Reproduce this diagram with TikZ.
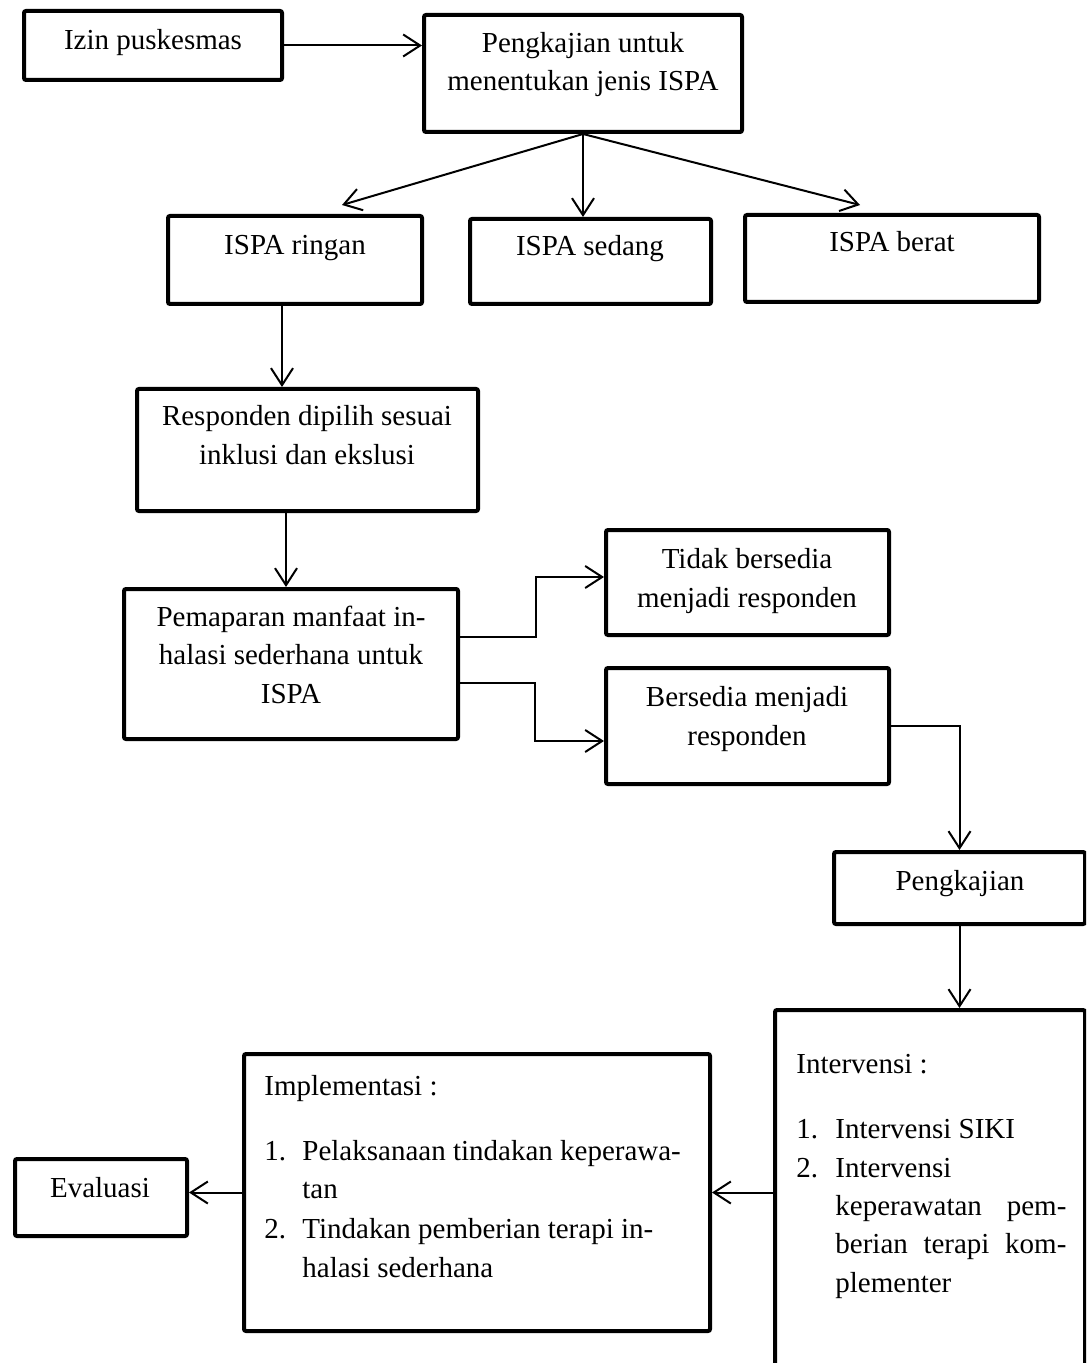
\documentclass[tikz,border=0pt]{standalone}
\usepackage{fontspec}
\setmainfont{Liberation Serif}
\usetikzlibrary{arrows.meta,calc}
\begin{document}
\begin{tikzpicture}[x=0.5pt,y=-0.5pt,
  box/.style={draw,line width=2pt,inner sep=0pt,rounded corners=1pt},
  arr/.style={line width=1pt,-{Straight Barb[length=8.5pt,width=11pt,line width=1pt]}},
  txt/.style={font=\fontsize{14.5pt}{19.25pt}\selectfont,inner sep=0pt,anchor=base,align=center},
  ltxt/.style={font=\fontsize{14.5pt}{19.25pt}\selectfont,inner sep=0pt,anchor=base west}]
\useasboundingbox (0,0) rectangle (1086,1363);
\clip (0,0) rectangle (1086,1363);
% boxes
\node[box,minimum width=129pt,minimum height=34.5pt] (izin) at (153,45.5) {};
\node[box,minimum width=159pt,minimum height=58.5pt] (peng1) at (583,73.5) {};
\node[box,minimum width=127pt,minimum height=44pt] (ringan) at (295,260) {};
\node[box,minimum width=120.5pt,minimum height=42.5pt] (sedang) at (590.5,261.5) {};
\node[box,minimum width=147pt,minimum height=43.5pt] (berat) at (892,258.5) {};
\node[box,minimum width=170.5pt,minimum height=61pt] (resp) at (307.5,450) {};
\node[box,minimum width=167pt,minimum height=75pt] (pemap) at (291,664) {};
\node[box,minimum width=141.5pt,minimum height=52.5pt] (tidak) at (747.5,582.5) {};
\node[box,minimum width=141.5pt,minimum height=58pt] (bersedia) at (747.5,726) {};
\node[box,minimum width=125.5pt,minimum height=36pt] (pengk) at (959.5,888) {};
\node[box,minimum width=155pt,minimum height=205pt] (interv) at (930,1215) {};
\node[box,minimum width=233pt,minimum height=138.5pt] (impl) at (477,1192.5) {};
\node[box,minimum width=86pt,minimum height=38.5pt] (eval) at (101,1197.5) {};
% texts (anchor = baseline of the last line)
\node[txt] (t-izin) at (153,50) {Izin puskesmas};
\node[txt] (t-peng1) at (583,91) {Pengkajian untuk\\menentukan jenis ISPA};
\node[txt] (t-ringan) at (295,255) {ISPA ringan};
\node[txt] (t-sedang) at (590,256) {ISPA sedang};
\node[txt] (t-berat) at (892,252) {ISPA berat};
\node[txt] (t-resp) at (307,464) {Responden dipilih sesuai\\inklusi dan ekslusi};
\node[txt] (t-pemap) at (291,703) {Pemaparan manfaat in-\\halasi sederhana untuk\\ISPA};
\node[txt] (t-tidak) at (747,607) {Tidak bersedia\\menjadi responden};
\node[txt] (t-bersedia) at (747,745) {Bersedia menjadi\\responden};
\node[txt] (t-pengk) at (960,890) {Pengkajian};
\node[txt] (t-eval) at (100,1197) {Evaluasi};
% Intervensi list
\node[ltxt] (iv0) at (796,1073) {Intervensi :};
\node[ltxt] (iv1n) at (796,1138) {1.};
\node[ltxt] (iv1) at (835,1138) {Intervensi SIKI};
\node[ltxt] (iv2n) at (796,1177) {2.};
\node[ltxt] (iv2a) at (835,1177) {Intervensi};
\node[ltxt] (iv2b) at (835,1215) {\makebox[115.5pt][s]{keperawatan pem-}};
\node[ltxt] (iv2c) at (835,1253) {\makebox[115.5pt][s]{berian terapi kom-}};
\node[ltxt] (iv2d) at (835,1292) {plementer};
% Implementasi list
\node[ltxt] (im0) at (264,1095) {Implementasi :};
\node[ltxt] (im1n) at (264,1160) {1.};
\node[ltxt] (im1a) at (302,1160) {Pelaksanaan tindakan keperawa-};
\node[ltxt] (im1b) at (302,1198) {tan};
\node[ltxt] (im2n) at (264,1238) {2.};
\node[ltxt] (im2a) at (302,1238) {Tindakan pemberian terapi in-};
\node[ltxt] (im2b) at (302,1277) {halasi sederhana};
% connectors
\coordinate (tipR) at (342,205);
\coordinate (tipB) at (860,205);
\coordinate (c1) at (282,0);
\coordinate (c2) at (286,0);
\coordinate (u1) at (536,637);
\coordinate (u2) at (536,577);
\coordinate (l1) at (535,683);
\coordinate (l2) at (535,741);
\draw[arr] (izin.east) -- (izin.east -| peng1.west);
\draw[arr] (peng1.south) -- (tipR);
\draw[arr] (peng1.south) -- (peng1.south |- sedang.north);
\draw[arr] (peng1.south) -- (tipB);
\draw[arr] (ringan.south -| c1) -- (resp.north -| c1);
\draw[arr] (resp.south -| c2) -- (pemap.north -| c2);
\draw[arr] (pemap.east |- u1) -- (u1) -- (u2) -- (tidak.west |- u2);
\draw[arr] (pemap.east |- l1) -- (l1) -- (l2) -- (bersedia.west |- l2);
\draw[arr] (bersedia.east) -| (pengk.north);
\draw[arr] (pengk.south) -- (pengk.south |- interv.north);
\draw[arr] (interv.west |- impl.east) -- (impl.east);
\draw[arr] (impl.west) -- (impl.west -| eval.east);
\end{tikzpicture}
\end{document}
